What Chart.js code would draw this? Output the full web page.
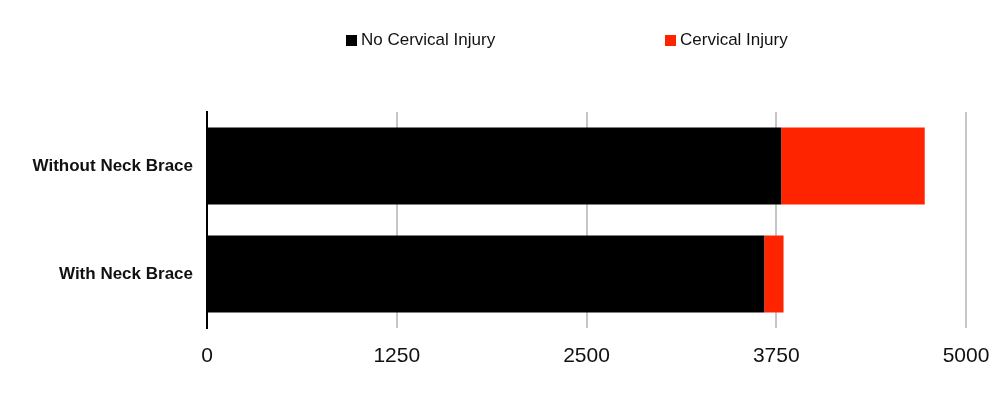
<!DOCTYPE html>
<html>
<head>
<meta charset="utf-8">
<script src="https://cdn.jsdelivr.net/npm/chart.js@4.4.1/dist/chart.umd.min.js"></script>
<style>
  html, body { margin: 0; padding: 0; background: #fff; }
  #wrap { position: relative; width: 1000px; height: 413px; }
  .legend { position: absolute; top: 30px; font: 17px "Liberation Sans", Arial, sans-serif; color: #111; display: flex; align-items: center; white-space: nowrap; }
  .legend i { display: inline-block; width: 11px; height: 11px; margin-right: 4px; }
</style>
</head>
<body>
<div id="wrap">
  <canvas id="chart" width="1000" height="413"></canvas>
  <div class="legend" style="left:346px"><i style="background:#000000"></i>No Cervical Injury</div>
  <div class="legend" style="left:665px"><i style="background:#ff2400"></i>Cervical Injury</div>
</div>
<script>
const categories = ['Without Neck Brace', 'With Neck Brace'];
const noCervicalInjury = [3783, 3671];
const cervicalInjury = [945, 127];
const xTicks = [0, 1250, 2500, 3750, 5000];

const ctx = document.getElementById('chart');
new Chart(ctx, {
  type: 'bar',
  data: {
    labels: categories,
    datasets: [
      {
        label: 'No Cervical Injury',
        data: noCervicalInjury,
        backgroundColor: '#000000',
        barPercentage: 0.714,
        categoryPercentage: 1
      },
      {
        label: 'Cervical Injury',
        data: cervicalInjury,
        backgroundColor: '#ff2400',
        barPercentage: 0.714,
        categoryPercentage: 1
      }
    ]
  },
  options: {
    indexAxis: 'y',
    responsive: false,
    animation: false,
    layout: { padding: { top: 112, right: 34, bottom: 0, left: 0 } },
    plugins: {
      legend: { display: false },
      tooltip: { enabled: false }
    },
    scales: {
      x: {
        stacked: true,
        min: 0,
        max: 5000,
        afterBuildTicks(scale) {
          scale.ticks = xTicks.map(v => ({ value: v }));
        },
        afterFit(scale) {
          scale.height = 85;
          scale.paddingLeft = 0;
          scale.paddingRight = 0;
        },
        grid: { color: '#c6c6c6', lineWidth: 2, drawTicks: false },
        border: { display: false },
        ticks: {
          padding: 16,
          color: '#111',
          callback: v => String(v),
          font: { family: '"Liberation Sans", Arial, sans-serif', size: 21 }
        }
      },
      y: {
        stacked: true,
        afterFit(scale) { scale.width = 207; },
        grid: { display: false, drawTicks: false },
        border: { display: true, color: '#000000', width: 2 },
        ticks: {
          padding: 14,
          color: '#111',
          font: { family: '"Liberation Sans", Arial, sans-serif', size: 17, weight: 'bold' }
        }
      }
    }
  }
});
</script>
</body>
</html>
